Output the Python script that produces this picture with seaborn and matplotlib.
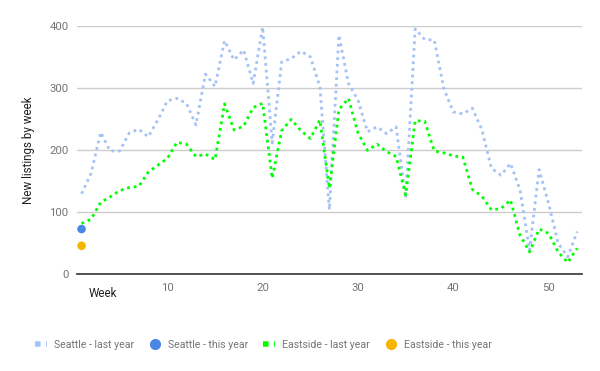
import matplotlib
matplotlib.use("Agg")
import matplotlib.pyplot as plt
from matplotlib.lines import Line2D
import seaborn as sns
import pandas as pd

# weekly new listings
weeks = list(range(1, 54))
seattle_last = [130, 163, 229, 199, 199, 228, 234, 222, 249, 280,
                284, 276, 241, 323, 303, 377, 346, 362, 308, 399,
                212, 343, 348, 360, 351, 303, 104, 386, 308, 281,
                230, 238, 227, 238, 123, 396, 379, 378, 300, 262,
                259, 268, 233, 171, 160, 179, 136, 39, 169, 114,
                50, 28, 69]
eastside_last = [82, 89, 116, 125, 135, 140, 142, 165, 176, 187,
                 213, 210, 190, 194, 185, 275, 233, 239, 269, 276,
                 155, 232, 250, 232, 219, 249, 139, 266, 284, 228,
                 200, 210, 198, 190, 128, 248, 247, 199, 196, 191,
                 189, 137, 126, 104, 106, 120, 63, 36, 73, 66,
                 36, 19, 42]
this_week = [1]
seattle_this = [73]
eastside_this = [46]

labels = ["Seattle - last year", "Seattle - this year",
          "Eastside - last year", "Eastside - this year"]
colors = ["#a4c2f4", "#4a86e8", "#00ff00", "#f5b400"]

sns.set_style("white")
plt.rcParams["font.family"] = ["Roboto", "DejaVu Sans"]

df_last = pd.DataFrame({"week": weeks + weeks,
                        "listings": seattle_last + eastside_last,
                        "series": [labels[0]] * len(weeks) + [labels[2]] * len(weeks)})
df_this = pd.DataFrame({"week": this_week + this_week,
                        "listings": seattle_this + eastside_this,
                        "series": [labels[1], labels[3]]})

fig = plt.figure(figsize=(6, 3.71), dpi=100)
ax = fig.add_axes([0.128, 0.2607, 0.842, 0.668])

dots = (0, (1, 1.4))
sns.lineplot(data=df_last, x="week", y="listings", hue="series",
             palette={labels[0]: colors[0], labels[2]: colors[2]},
             linewidth=2.0, ax=ax, legend=False)
for ln in ax.lines:
    ln.set_linestyle(dots)
sns.scatterplot(data=df_this, x="week", y="listings", hue="series",
                palette={labels[1]: colors[1], labels[3]: colors[3]},
                s=38, linewidth=0, ax=ax, legend=False, zorder=5)

ax.set_xlim(0.5, 53.5)
ax.set_ylim(0, 400)
ax.set_xticks([10, 20, 30, 40, 50])
ax.set_yticks([0, 100, 200, 300, 400])
ax.grid(axis="y", color="#cccccc", linewidth=1)
ax.set_axisbelow(True)
for s in ["top", "right", "left"]:
    ax.spines[s].set_visible(False)
ax.spines["bottom"].set_color("#333333")
ax.spines["bottom"].set_linewidth(1.2)
ax.tick_params(length=0, labelsize=8.2, labelcolor="#757575", pad=6)
ax.set_xlabel("")
ax.set_ylabel("New listings by week", fontsize=8.4, color="#222222", labelpad=10)
fig.text(0.147, 0.21, "Week", fontsize=8.4, color="#222222", ha="left", va="center")

handles = [
    Line2D([0], [0], color=colors[0], lw=4, linestyle=(0, (1, 1))),
    Line2D([0], [0], color=colors[1], lw=0, marker="o", markersize=7),
    Line2D([0], [0], color=colors[2], lw=4, linestyle=(0, (1, 1))),
    Line2D([0], [0], color=colors[3], lw=0, marker="o", markersize=7),
]
fig.legend(handles, labels, loc="center left", bbox_to_anchor=(0.052, 0.07), ncol=4,
           frameon=False, fontsize=7.6, labelcolor="#757575", borderaxespad=0,
           handlelength=1.1, handletextpad=0.7, columnspacing=1.4)

fig.savefig("out.png", dpi=100)
